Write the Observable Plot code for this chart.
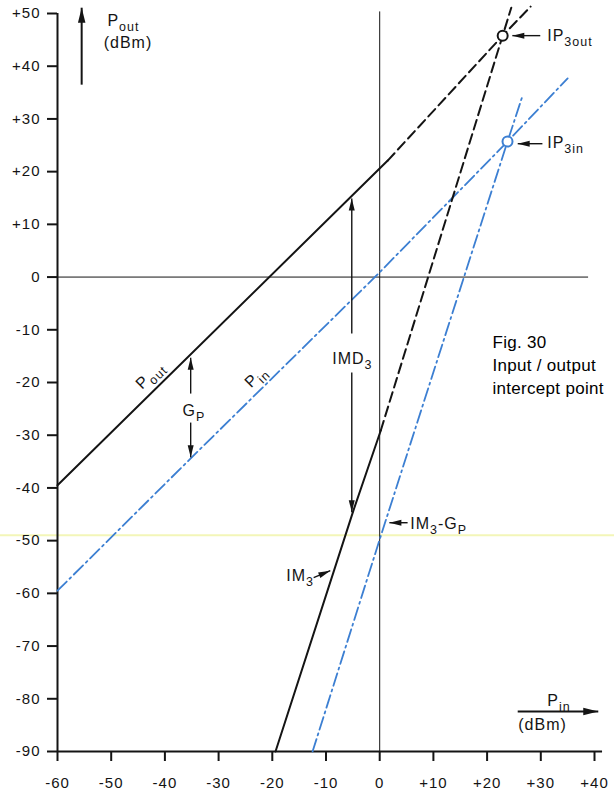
<!DOCTYPE html>
<html>
<head>
<meta charset="utf-8">
<script src="https://cdn.jsdelivr.net/npm/d3@7"></script>
<script src="https://cdn.jsdelivr.net/npm/@observablehq/plot@0.6"></script>
<style>
  html, body { margin: 0; padding: 0; background: #ffffff; }
  #chart svg { display: block; }
  #chart svg text { letter-spacing: 1px; }
  #chart svg g.caption text { letter-spacing: 0.3px; }
</style>
</head>
<body>
<div id="chart"></div>
<script>
// ---------- data ----------
const xTicks = [-60, -50, -40, -30, -20, -10, 0, 10, 20, 30, 40];
const yTicks = [50, 40, 30, 20, 10, 0, -10, -20, -30, -40, -50, -60, -70, -80, -90];

// [Pin dBm, P dBm]
const poutSolid  = [[-60, -39.5], [1.5, 22.1]];
const poutDashed = [[1.5, 22.1], [22.9, 45.8], [28.1, 51.3]];
const pinLine    = [[-60, -59.5], [-35, -34.2], [-0.4, 0.5], [23.8, 25.7], [35.0, 37.7]];
const im3Solid   = [[-19.4, -90], [-4.9, -44.3], [0.2, -29.1]];
const im3Dashed  = [[0.2, -29.1], [22.9, 45.8], [24.5, 51.1]];
const im3GpLine  = [[-12.5, -90], [0.3, -48.8], [23.8, 25.7], [26.6, 34.4]];
const ip3outPoint = [[22.9, 45.8]];
const ip3inPoint  = [[23.8, 25.7]];

// annotation arrows (tail x1,y1 -> tip x2,y2)
const axisArrows = [
  {x1: -55.5, y1: 36.5, x2: -55.5, y2: 51.1},
  {x1: 25.7, y1: -82.4, x2: 40.7, y2: -82.4}
];
const noteArrows = [
  {x1: 29.9, y1: 45.8, x2: 24.7, y2: 45.8},
  {x1: 30.3, y1: 25.3, x2: 25.7, y2: 25.3},
  {x1: -35.2, y1: -22.1, x2: -35.2, y2: -15.3},
  {x1: -35.2, y1: -27.6, x2: -35.2, y2: -34.2},
  {x1: -5.2, y1: -10.7, x2: -5.2, y2: 14.9},
  {x1: -5.2, y1: -18.1, x2: -5.2, y2: -44.6},
  {x1: 5.2, y1: -46.6, x2: 1.8, y2: -46.6},
  {x1: -12.3, y1: -57.0, x2: -9.2, y2: -55.7}
];

// labels ("_{...}" = subscript)
const startLabels = [
  {x: -50.7, y: 47.7, text: "P_{out}"},
  {x: -51.4, y: 43.4, text: "(dBm)"},
  {x: 31.2, y: -81.3, text: "P_{in}"},
  {x: 25.8, y: -86.0, text: "(dBm)"},
  {x: 31.2, y: 44.7, text: "IP_{3out}"},
  {x: 31.2, y: 24.4, text: "IP_{3in}"},
  {x: 5.7, y: -47.7, text: "IM_{3}-G_{P}"},
  {x: -17.4, y: -57.6, text: "IM_{3}"}
];
const middleLabels = [
  {x: -5.1, y: -16.4, text: "IMD_{3}"},
  {x: -34.6, y: -26.3, text: "G_{P}"}
];
const lineLabels = [
  {x: -42.8, y: -18.6, text: "P_{out}"},
  {x: -23.1, y: -18.9, text: "P_{in}"}
];
const figCaption = [
  {x: 21.0, y: -13.4, text: "Fig. 30"},
  {x: 21.0, y: -17.9, text: "Input / output"},
  {x: 21.0, y: -22.1, text: "intercept point"}
];
const scanLine = [-49.0];

// ---------- layout ----------
const W = 614, H = 793;
const mL = 57, mR = 20, mT = 13, mB = 42;
const xDomain = [-60, 40], yDomain = [-90, 50];
const kx = (W - mL - mR) / (xDomain[1] - xDomain[0]);
const ky = (H - mT - mB) / (yDomain[1] - yDomain[0]);
const ink = "#141414";
const blue = "#3c7fd2";

const fmt = d => d > 0 ? "+" + d : d < 0 ? "-" + Math.abs(d) : "0";
const angle = d => Math.atan2((d.x2 - d.x1) * kx, (d.y2 - d.y1) * ky) * 180 / Math.PI;

const arrowHead = {
  draw(ctx, size) {
    const s = Math.sqrt(size / Math.PI);
    ctx.moveTo(0, 0);
    ctx.lineTo(-0.5 * s, 2 * s);
    ctx.lineTo(0.5 * s, 2 * s);
    ctx.closePath();
  }
};

const chart = Plot.plot({
  width: W, height: H,
  marginLeft: mL, marginRight: mR, marginTop: mT, marginBottom: mB,
  x: {domain: xDomain},
  y: {domain: yDomain},
  style: {fontFamily: "'Liberation Sans', Arial, Helvetica, sans-serif", fontSize: "15px", background: "#ffffff", color: ink, overflow: "visible"},
  marks: [
    Plot.ruleY(scanLine, {stroke: "#f3f6b8", strokeWidth: 2, insetLeft: -mL, insetRight: -mR}),
    // zero lines
    Plot.ruleY([0], {x1: -60, x2: 38.9, stroke: ink, strokeWidth: 1}),
    Plot.ruleX([0], {y1: -90, y2: 50.3, stroke: ink, strokeWidth: 1}),
    // axes
    Plot.axisY({ticks: yTicks, tickFormat: fmt, tickSize: 10, tickPadding: 7, fontSize: 15, strokeWidth: 2, label: null, stroke: ink}),
    Plot.axisX({ticks: xTicks, tickFormat: fmt, tickSize: 10, tickPadding: 16, fontSize: 15, strokeWidth: 2, label: null, stroke: ink}),
    Plot.ruleX([-60], {y1: -90, y2: 50, stroke: ink, strokeWidth: 2}),
    Plot.ruleY([-90], {x1: -60, x2: 41.5, stroke: ink, strokeWidth: 2}),
    // curves
    Plot.line(pinLine, {stroke: blue, strokeWidth: 1.8, strokeDasharray: "13,4,2,4"}),
    Plot.line(im3GpLine, {stroke: blue, strokeWidth: 1.8, strokeDasharray: "13,4,2,4"}),
    Plot.line(poutSolid, {stroke: ink, strokeWidth: 2}),
    Plot.line(poutDashed, {stroke: ink, strokeWidth: 2, strokeDasharray: "10,5"}),
    Plot.line(im3Solid, {stroke: ink, strokeWidth: 2}),
    Plot.line(im3Dashed, {stroke: ink, strokeWidth: 2, strokeDasharray: "10,5"}),
    // intercept points
    Plot.dot(ip3outPoint, {r: 5, stroke: ink, strokeWidth: 2, fill: "#ffffff"}),
    Plot.dot(ip3inPoint, {r: 5, stroke: blue, strokeWidth: 2, fill: "#ffffff"}),
    // arrows
    Plot.link(axisArrows, {x1: "x1", y1: "y1", x2: "x2", y2: "y2", stroke: ink, strokeWidth: 2}),
    Plot.dot(axisArrows, {x: "x2", y: "y2", symbol: arrowHead, r: 7.5, fill: ink, stroke: "none", rotate: angle}),
    Plot.link(noteArrows, {x1: "x1", y1: "y1", x2: "x2", y2: "y2", stroke: ink, strokeWidth: 1.4}),
    Plot.dot(noteArrows, {x: "x2", y: "y2", symbol: arrowHead, r: 6, fill: ink, stroke: "none", rotate: angle}),
    // labels
    Plot.text(startLabels, {x: "x", y: "y", text: "text", textAnchor: "start", lineAnchor: "bottom", fontSize: 16, fill: ink}),
    Plot.text(middleLabels, {x: "x", y: "y", text: "text", textAnchor: "middle", lineAnchor: "bottom", fontSize: 16, fill: ink}),
    Plot.text(lineLabels, {x: "x", y: "y", text: "text", textAnchor: "middle", lineAnchor: "middle", rotate: -44.5, fontSize: 16, fill: ink}),
    Plot.text(figCaption, {x: "x", y: "y", text: "text", textAnchor: "start", lineAnchor: "bottom", fontSize: 17, fill: "#000000", className: "caption"})
  ]
});

// turn "_{...}" into subscripts
const NS = "http://www.w3.org/2000/svg";
chart.querySelectorAll("text").forEach(t => {
  const s = t.textContent;
  if (!s.includes("_{")) return;
  while (t.firstChild) t.removeChild(t.firstChild);
  const parts = s.split(/_\{([^}]*)\}/);
  let shift = 0;
  parts.forEach((p, i) => {
    if (p === "") return;
    const ts = document.createElementNS(NS, "tspan");
    if (i % 2 === 1) {
      ts.setAttribute("font-size", "0.78em");
      ts.setAttribute("dy", "5");
      shift = 5;
    } else if (shift) {
      ts.setAttribute("dy", String(-shift));
      shift = 0;
    }
    ts.textContent = p;
    t.appendChild(ts);
  });
});

document.getElementById("chart").appendChild(chart);
</script>
</body>
</html>
